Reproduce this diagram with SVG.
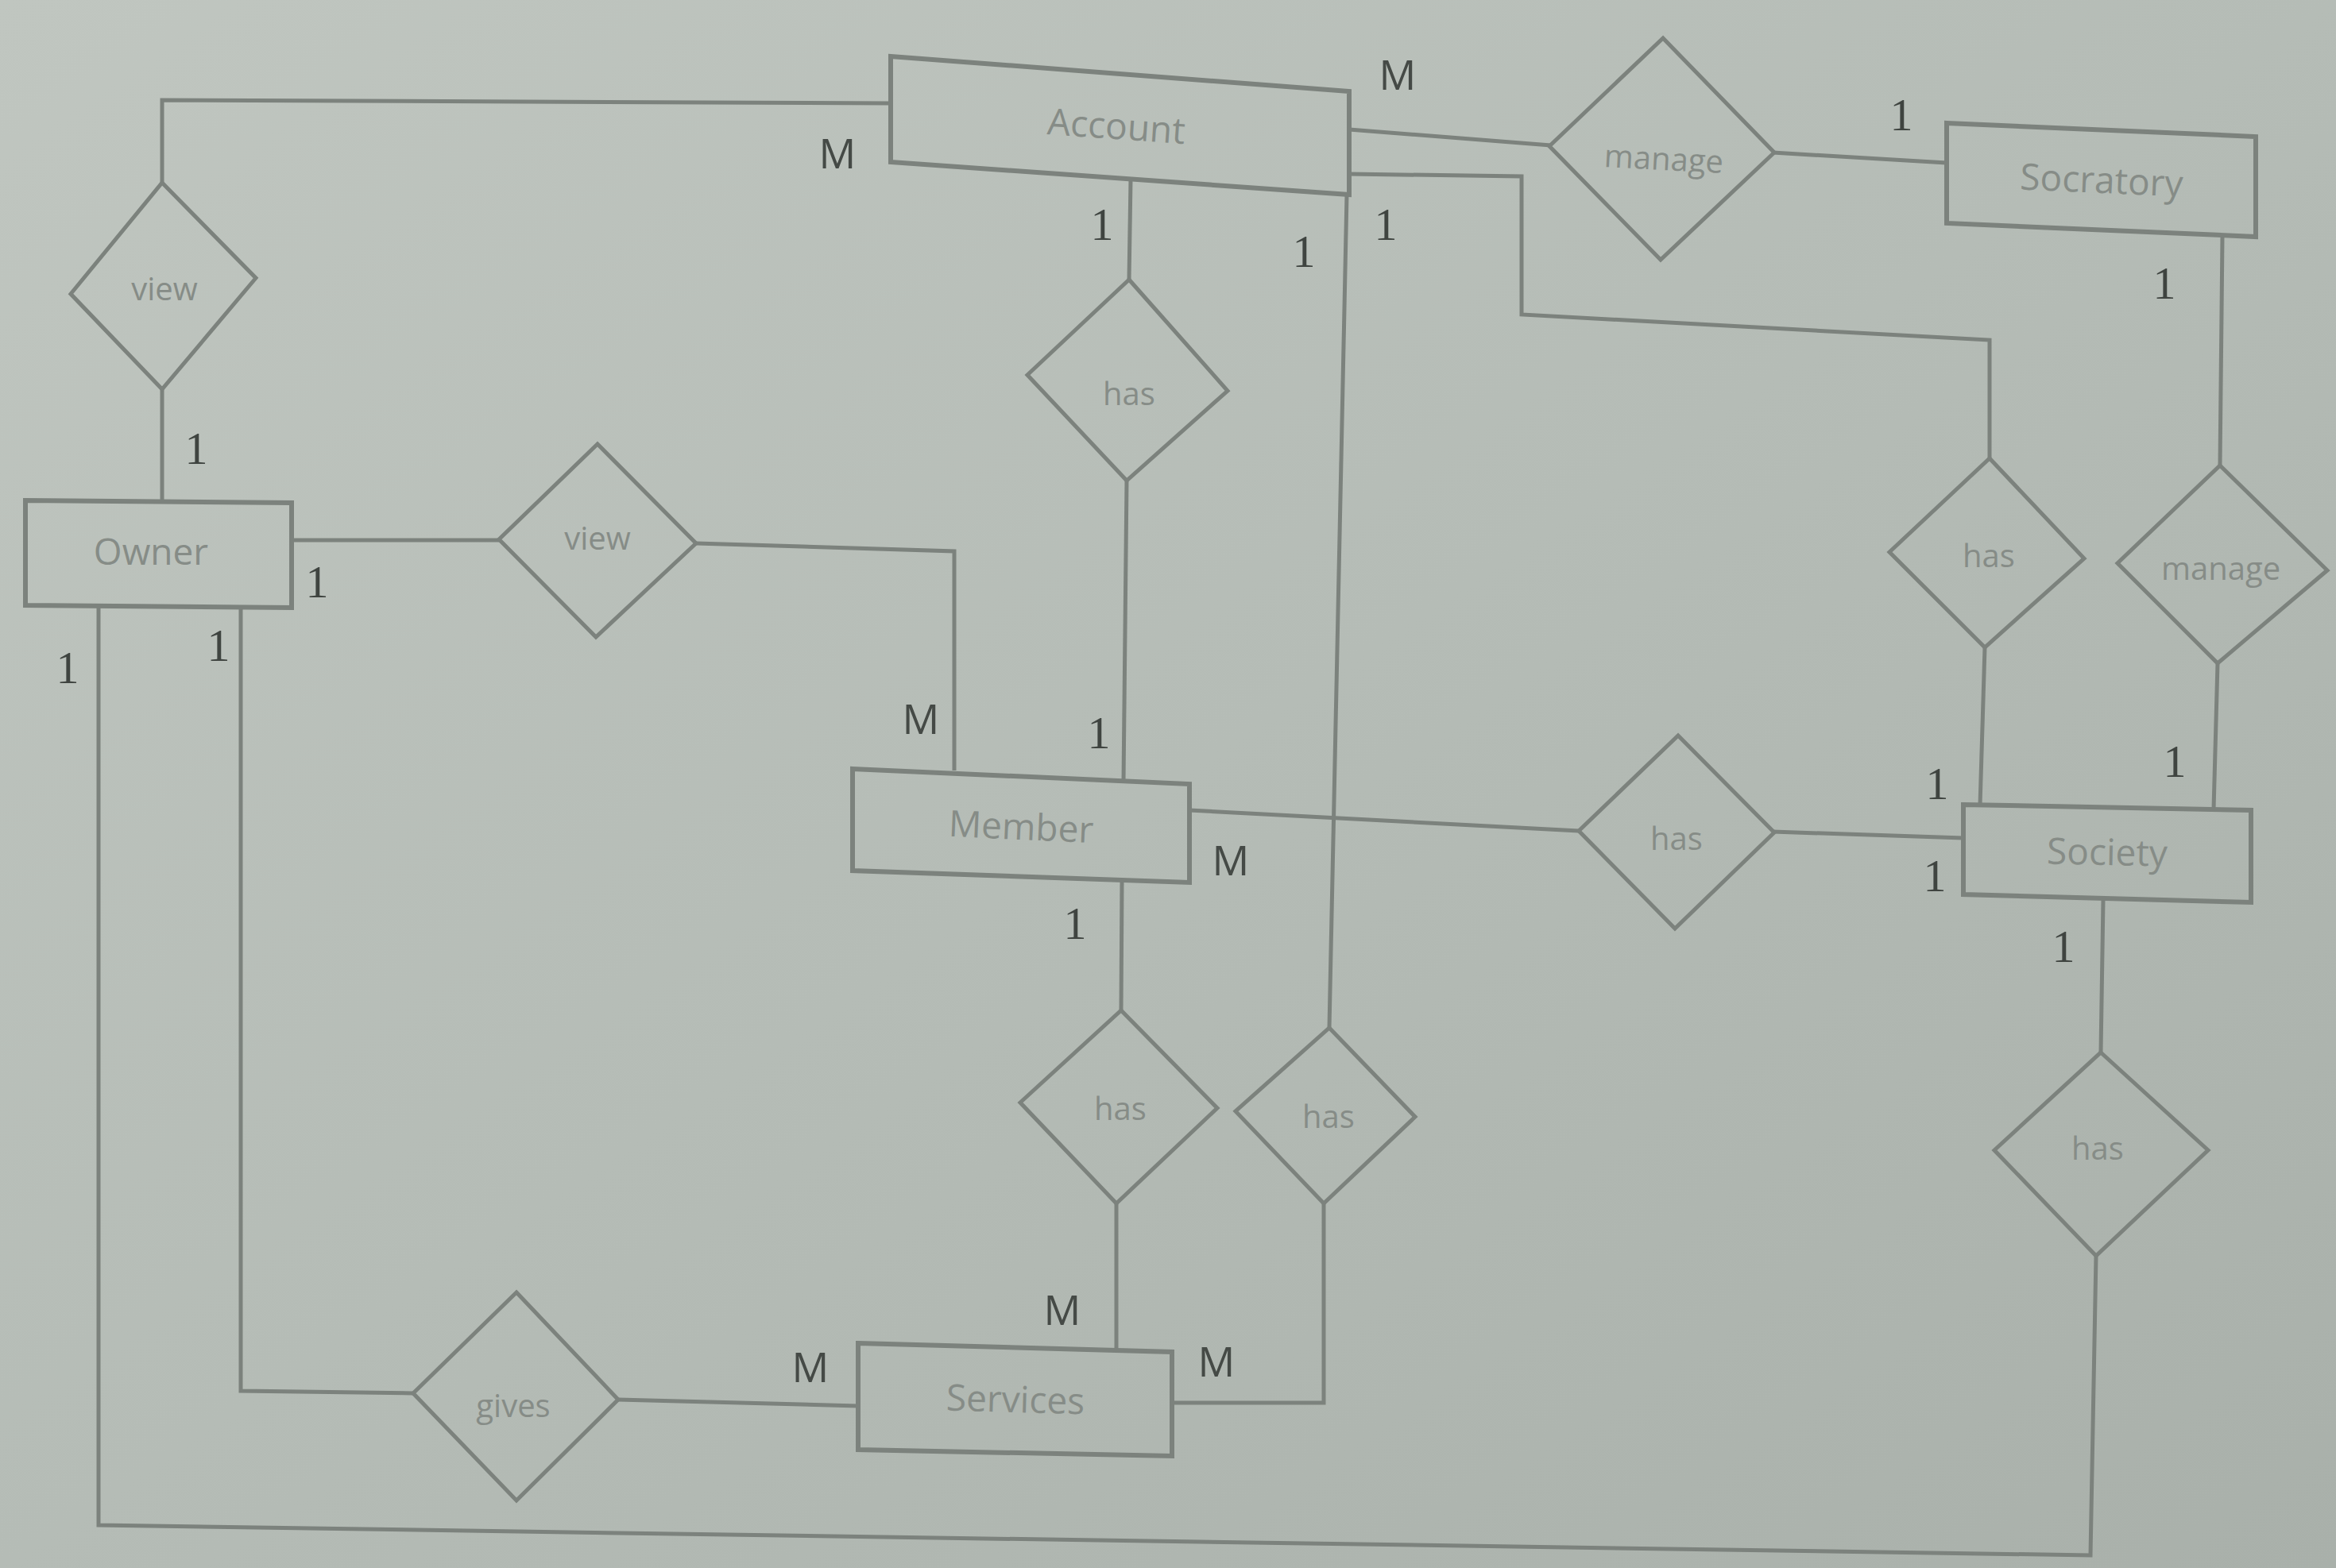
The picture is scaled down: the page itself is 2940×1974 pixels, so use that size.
<svg xmlns="http://www.w3.org/2000/svg" width="2940" height="1974" viewBox="0 0 2940 1974">
<defs>
<linearGradient id="bg" x1="0" y1="0" x2="1" y2="1">
<stop offset="0" stop-color="#c0c6c0"/>
<stop offset="0.5" stop-color="#b5bcb6"/>
<stop offset="1" stop-color="#a9b0aa"/>
</linearGradient>
<style>
.ent{fill:none;stroke:#7c827d;stroke-width:6;stroke-linejoin:miter}
.rel{fill:none;stroke:#7c827d;stroke-width:5}
.conn{fill:none;stroke:#7c827d;stroke-width:5;stroke-linejoin:miter}
.name{font-family:"Open Sans","Liberation Sans",sans-serif;fill:#868c87;text-anchor:middle}
.big{font-size:46px}
.small{font-size:40px}
.m{font-family:"Open Sans","Liberation Sans",sans-serif;font-size:52px;fill:#454a46;text-anchor:middle}
.one{font-family:"Liberation Serif","DejaVu Serif",serif;font-size:58px;fill:#3f4440;text-anchor:middle}
</style>
</defs>
<rect x="0" y="0" width="2940" height="1974" fill="url(#bg)"/>

<g id="connectors">
<!-- Account - view - Owner -->
<path class="conn" d="M1121,130 L204,126 L204,230"/>
<path class="conn" d="M204,490 L204,630"/>
<!-- Owner - view - Member -->
<path class="conn" d="M367,680 L628,680"/>
<path class="conn" d="M876,684 L1201,694 L1201,970"/>
<!-- Account - has - Member -->
<path class="conn" d="M1423,226 L1421,352"/>
<path class="conn" d="M1418,605 L1414,984"/>
<!-- Member - has - Services -->
<path class="conn" d="M1412,1109 L1411,1272"/>
<path class="conn" d="M1405,1515 L1405,1700"/>
<!-- Account - has - Services -->
<path class="conn" d="M1695,245 L1673,1294"/>
<path class="conn" d="M1666,1515 L1666,1766 L1475,1766"/>
<!-- Account - manage - Secretary -->
<path class="conn" d="M1698,163 L1952,183"/>
<path class="conn" d="M2231,192 L2450,205"/>
<!-- Account - has - Society -->
<path class="conn" d="M1698,219 L1915,222 L1915,396 L2504,428 L2504,577"/>
<path class="conn" d="M2498,815 L2492,1014"/>
<!-- Secretary - manage - Society -->
<path class="conn" d="M2797,298 L2794,586"/>
<path class="conn" d="M2791,835 L2786,1019"/>
<!-- Member - has - Society -->
<path class="conn" d="M1497,1020 L1987,1046"/>
<path class="conn" d="M2231,1047 L2471,1055"/>
<!-- Society - has - Owner -->
<path class="conn" d="M2647,1133 L2644,1325"/>
<path class="conn" d="M2638,1581 L2631,1958 L124,1920 L124,764"/>
<!-- Owner - gives - Services -->
<path class="conn" d="M303,765 L303,1751 L520,1754"/>
<path class="conn" d="M778,1762 L1080,1770"/>
</g>

<g id="account">
<polygon class="ent" points="1121,71 1698,115 1698,245 1121,204"/>
<text class="name big" x="1405" y="175" transform="rotate(4 1405 160)">Account</text>
</g>
<g id="secretary">
<polygon class="ent" points="2450,155 2839,172 2839,298 2450,281"/>
<text class="name big" x="2645" y="243" transform="rotate(2.5 2645 228)">Socratory</text>
</g>
<g id="owner">
<polygon class="ent" points="32,630 367,633 367,765 32,762"/>
<text class="name big" x="190" y="711">Owner</text>
</g>
<g id="member">
<polygon class="ent" points="1073,968 1497,987 1497,1111 1073,1096"/>
<text class="name big" x="1285" y="1057" transform="rotate(2.6 1285 1042)">Member</text>
</g>
<g id="services">
<polygon class="ent" points="1080,1691 1475,1702 1475,1833 1080,1825"/>
<text class="name big" x="1278" y="1778" transform="rotate(1.6 1278 1763)">Services</text>
</g>
<g id="society">
<polygon class="ent" points="2471,1013 2833,1020 2833,1136 2471,1126"/>
<text class="name big" x="2652" y="1089" transform="rotate(1.1 2652 1074)">Society</text>
</g>

<g id="view-account-owner">
<polygon class="rel" points="204,230 322,350 204,490 89,370"/>
<text class="name small" x="207" y="378">view</text>
</g>
<g id="view-owner-member">
<polygon class="rel" points="752,559 876,684 750,802 628,679"/>
<text class="name small" x="752" y="692">view</text>
</g>
<g id="has-account-member">
<polygon class="rel" points="1421,352 1545,492 1418,605 1293,472"/>
<text class="name small" x="1421" y="510">has</text>
</g>
<g id="manage-account-secretary">
<polygon class="rel" points="2093,48 2233,192 2090,327 1950,184"/>
<text class="name small" x="2094" y="214" transform="rotate(3 2094 200)">manage</text>
</g>
<g id="has-account-society">
<polygon class="rel" points="2504,577 2623,703 2498,815 2378,695"/>
<text class="name small" x="2503" y="714">has</text>
</g>
<g id="manage-secretary-society">
<polygon class="rel" points="2794,586 2929,718 2791,835 2665,709"/>
<text class="name small" x="2795" y="730">manage</text>
</g>
<g id="has-member-society">
<polygon class="rel" points="2112,926 2233,1048 2108,1169 1987,1046"/>
<text class="name small" x="2110" y="1070">has</text>
</g>
<g id="has-member-services">
<polygon class="rel" points="1411,1272 1532,1395 1405,1515 1284,1388"/>
<text class="name small" x="1410" y="1410">has</text>
</g>
<g id="has-account-services">
<polygon class="rel" points="1673,1294 1781,1406 1666,1515 1555,1399"/>
<text class="name small" x="1672" y="1420">has</text>
</g>
<g id="has-society-owner">
<polygon class="rel" points="2644,1325 2779,1448 2638,1581 2510,1448"/>
<text class="name small" x="2640" y="1460">has</text>
</g>
<g id="gives-owner-services">
<polygon class="rel" points="650,1627 778,1762 650,1889 520,1754"/>
<text class="name small" x="646" y="1784">gives</text>
</g>

<g id="cardinalities">
<text class="m" x="1054" y="212">M</text>
<text class="m" x="1759" y="113">M</text>
<text class="one" x="2393" y="164">1</text>
<text class="one" x="1387" y="302">1</text>
<text class="one" x="1641" y="336">1</text>
<text class="one" x="1744" y="302">1</text>
<text class="one" x="2724" y="376">1</text>
<text class="one" x="247" y="584">1</text>
<text class="one" x="399" y="752">1</text>
<text class="one" x="85" y="860">1</text>
<text class="one" x="275" y="832">1</text>
<text class="m" x="1159" y="924">M</text>
<text class="one" x="1383" y="942">1</text>
<text class="m" x="1549" y="1102">M</text>
<text class="one" x="1353" y="1182">1</text>
<text class="one" x="2438" y="1006">1</text>
<text class="one" x="2737" y="978">1</text>
<text class="one" x="2435" y="1122">1</text>
<text class="one" x="2597" y="1211">1</text>
<text class="m" x="1337" y="1668">M</text>
<text class="m" x="1020" y="1740">M</text>
<text class="m" x="1531" y="1733">M</text>
</g>
</svg>
